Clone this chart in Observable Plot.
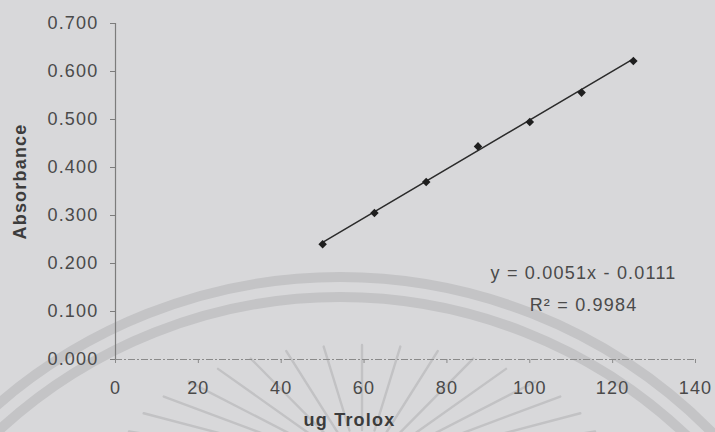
<!DOCTYPE html>
<html>
<head>
<meta charset="utf-8">
<script src="https://cdn.jsdelivr.net/npm/d3@7"></script>
<script src="https://cdn.jsdelivr.net/npm/@observablehq/plot@0.6"></script>
<style>
  html, body { margin: 0; padding: 0; background: #d8d8da; }
  #wrap { position: relative; width: 715px; height: 432px; overflow: hidden; }
  #wrap svg { position: absolute; left: 0; top: 0; }
  #chart text { letter-spacing: 1.2px; }
</style>
</head>
<body>
<div id="wrap">
  <svg id="seal" width="715" height="432"></svg>
  <div id="chart"></div>
</div>
<script>
// Trolox standard curve: amount of Trolox (ug) against measured absorbance
const troloxUg = [50, 62.5, 75, 87.5, 100, 112.5, 125];
const absorbance = [0.240, 0.305, 0.370, 0.444, 0.495, 0.556, 0.622];

// Linear fit reported on the chart
const slope = 0.0051;
const intercept = -0.0111;
const rSquared = 0.9984;

const xTicks = [0, 20, 40, 60, 80, 100, 120, 140];
const yTicks = [0, 0.1, 0.2, 0.3, 0.4, 0.5, 0.6, 0.7];

const points = troloxUg.map((x, i) => ({x, y: absorbance[i]}));
const trend = d3.extent(troloxUg).map(x => ({x, y: slope * x + intercept}));

const equation = `y = ${slope}x - ${Math.abs(intercept)}`;
const rLabel = `R\u00B2 = ${rSquared}`;

// Faint printed seal behind the chart: two concentric bands and a sunburst
const seal = d3.select("#seal");
[523, 503].forEach(r => {
  seal.append("circle")
    .attr("cx", 340).attr("cy", 800).attr("r", r)
    .attr("fill", "none").attr("stroke", "#c4c4c6").attr("stroke-width", 10);
});
d3.range(-171, -5, 9).forEach(deg => {
  const a = deg * Math.PI / 180;
  const cx = 362, cy = 470;
  seal.append("line")
    .attr("x1", cx + 80 * Math.cos(a)).attr("y1", cy + 40 * Math.sin(a))
    .attr("x2", cx + 245 * Math.cos(a)).attr("y2", cy + 125 * Math.sin(a))
    .attr("stroke", "#c2c2c4").attr("stroke-width", 2.4).attr("stroke-linecap", "round");
});

const chart = Plot.plot({
  width: 715,
  height: 432,
  marginLeft: 115,
  marginRight: 20,
  marginTop: 23,
  marginBottom: 73,
  style: {
    background: "transparent",
    fontFamily: "'Liberation Sans', Arial, sans-serif",
    fontSize: "18px",
    color: "#4a4a4a",
    overflow: "visible"
  },
  x: {domain: [0, 140]},
  y: {domain: [0, 0.7]},
  marks: [
    Plot.ruleY([0], {stroke: "#8a8a8a", strokeWidth: 1, strokeDasharray: "7,2,2,2"}),
    Plot.ruleX([0], {stroke: "#7c7c7c", strokeWidth: 1.2}),
    Plot.axisY({ticks: yTicks, tickFormat: d3.format(".3f"), tickSize: 5, tickPadding: 12, label: null, stroke: "#7c7c7c"}),
    Plot.axisX({ticks: xTicks, tickFormat: d3.format("d"), tickSize: 4, tickPadding: 18, label: null, stroke: "#8a8a8a"}),
    Plot.text(["ug Trolox"], {text: d => d, frameAnchor: "bottom", dx: -56, dy: 61, textAnchor: "middle", lineAnchor: "middle", fontWeight: "bold", fill: "#3c3c3c"}),
    Plot.text(["Absorbance"], {text: d => d, frameAnchor: "left", rotate: -90, dx: -95, dy: -10, textAnchor: "middle", lineAnchor: "middle", fontWeight: "bold", fill: "#3c3c3c"}),
    Plot.line(trend, {x: "x", y: "y", stroke: "#2b2b2b", strokeWidth: 1.5}),
    Plot.dot(points, {x: "x", y: "y", symbol: "square", r: 3.4, rotate: 45, fill: "#1f1f1f", stroke: "none"}),
    Plot.text([equation], {text: d => d, frameAnchor: "bottom-right", dx: -112, dy: -86, textAnchor: "middle", lineAnchor: "middle", fill: "#4a4a4a"}),
    Plot.text([rLabel], {text: d => d, frameAnchor: "bottom-right", dx: -112, dy: -54, textAnchor: "middle", lineAnchor: "middle", fill: "#4a4a4a"})
  ]
});
document.getElementById("chart").appendChild(chart);
</script>
</body>
</html>
